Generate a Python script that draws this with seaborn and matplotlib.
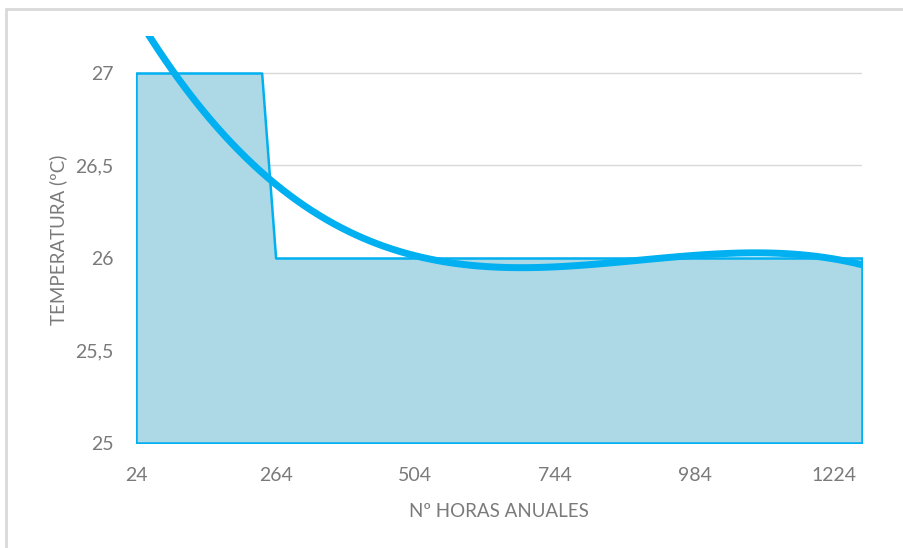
import matplotlib
matplotlib.use("Agg")
import matplotlib.pyplot as plt
from matplotlib.lines import Line2D
import numpy as np
import pandas as pd
import seaborn as sns

# Hourly bins (every 24 h) and the temperature assigned to each bin
hours = [24, 48, 72, 96, 120, 144, 168, 192, 216, 240,
         264, 288, 312, 336, 360, 384, 408, 432, 456, 480,
         504, 528, 552, 576, 600, 624, 648, 672, 696, 720,
         744, 768, 792, 816, 840, 864, 888, 912, 936, 960,
         984, 1008, 1032, 1056, 1080, 1104, 1128, 1152, 1176, 1200,
         1224, 1248, 1272]
temps = [27, 27, 27, 27, 27, 27, 27, 27, 27, 27,
         26, 26, 26, 26, 26, 26, 26, 26, 26, 26,
         26, 26, 26, 26, 26, 26, 26, 26, 26, 26,
         26, 26, 26, 26, 26, 26, 26, 26, 26, 26,
         26, 26, 26, 26, 26, 26, 26, 26, 26, 26,
         26, 26, 26]
x_ticks = [24, 264, 504, 744, 984, 1224]
y_ticks = [25, 25.5, 26, 26.5, 27]
y_tick_labels = ["25", "25,5", "26", "26,5", "27"]

df = pd.DataFrame({"horas": hours, "temp": temps})

sns.set_theme(style="white")
plt.rcParams["font.family"] = ["Lato", "DejaVu Sans"]

GRAY_TXT = "#7A7A7A"
GRID = "#D9D9D9"
AREA_FILL = "#ADD8E6"
BLUE = "#00B0F0"

fig = plt.figure(figsize=(9.04, 5.48), dpi=100)
ax = fig.add_axes([136 / 904, 1 - 443 / 548, (862 - 136) / 904, (443 - 36) / 548])

ymin, ymax = 25, 27.2

# horizontal gridlines
for yv in y_ticks[1:]:
    ax.axhline(yv, color=GRID, lw=1, zorder=0)

# area series
ax.fill_between(df["horas"], ymin, df["temp"], facecolor=AREA_FILL,
                edgecolor=BLUE, linewidth=1.8, zorder=2)

# 3rd-order polynomial trend line
sns.regplot(data=df, x="horas", y="temp", order=3, ci=None, scatter=False,
            line_kws=dict(color=BLUE, lw=5, solid_capstyle="butt", zorder=3),
            ax=ax)

ax.set_xlim(24, 1272)
ax.set_ylim(ymin, ymax)
ax.set_xticks(x_ticks)
ax.set_xticklabels([str(v) for v in x_ticks])
ax.set_yticks(y_ticks)
ax.set_yticklabels(y_tick_labels)
ax.tick_params(axis="both", length=0, labelsize=14, colors=GRAY_TXT)
ax.tick_params(axis="x", pad=17)
ax.tick_params(axis="y", pad=16)
for s in ax.spines.values():
    s.set_visible(False)
ax.grid(False)

ax.set_xlabel("Nº HORAS ANUALES", fontsize=13.5, color=GRAY_TXT, labelpad=14)
ax.set_ylabel("TEMPERATURA (ºC)", fontsize=13.5, color=GRAY_TXT, labelpad=6)

# chart frame (top and left edges)
fig.add_artist(Line2D([6.5 / 904, 1], [1 - 9 / 548, 1 - 9 / 548],
                      transform=fig.transFigure, color=GRID, lw=2))
fig.add_artist(Line2D([6.5 / 904, 6.5 / 904], [0, 1 - 9 / 548],
                      transform=fig.transFigure, color=GRID, lw=2))

fig.savefig("out.png", dpi=100)
